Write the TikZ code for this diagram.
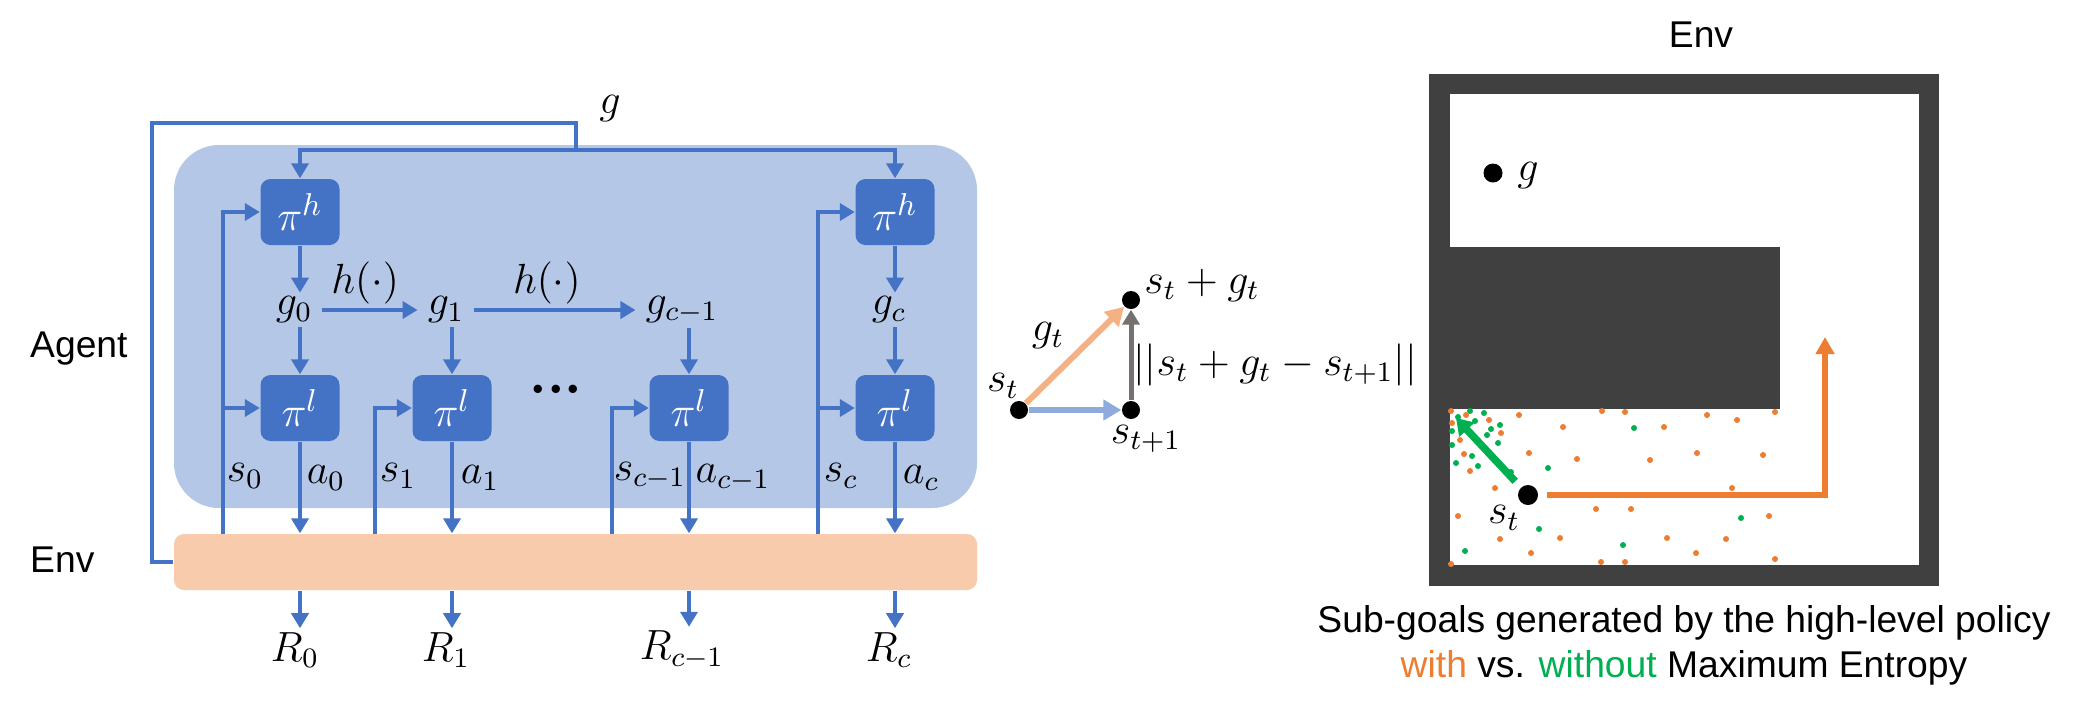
\documentclass[tikz,border=0pt]{standalone}
\usepackage[no-math]{fontspec}
\setmainfont{Liberation Sans}
\newfontfamily\dotsfont{Liberation Serif}
\usepackage{amsmath}
\usetikzlibrary{arrows.meta,positioning}
\definecolor{agentblue}{HTML}{B4C7E7}
\definecolor{boxblue}{HTML}{4472C4}
\definecolor{envpeach}{HTML}{F8CBAD}
\definecolor{goalorange}{HTML}{F4B183}
\definecolor{stepblue}{HTML}{8FAADC}
\definecolor{errgrey}{HTML}{767171}
\definecolor{wallgrey}{HTML}{404040}
\definecolor{meorange}{HTML}{ED7D31}
\definecolor{megreen}{HTML}{00B050}

\begin{document}
\begin{tikzpicture}[
    x=0.1mm, y=-0.1mm,
    every node/.style={font=\fontsize{10.6}{12.7}\selectfont, inner sep=1pt},
    mathlbl/.style={font=\fontsize{11.5}{13.5}\selectfont},
    policy/.style={fill=boxblue, rounded corners=1mm, minimum width=7.9mm, minimum height=6.6mm, inner sep=0pt, text=white, font=\fontsize{12.5}{14}\selectfont},
    wire/.style={draw=boxblue, line width=0.42mm},
    flow/.style={wire, -{Triangle[length=1.5mm,width=1.7mm]}},
    blackdot/.style={circle, fill=black, inner sep=0pt, minimum size=1.8mm},
    bigtip/.style={-{Triangle[length=1.8mm,width=2mm]}}
]
\useasboundingbox (0,0) rectangle (2077,714);

% Agent and Env regions
\fill[agentblue, rounded corners=4.5mm] (174,145) rectangle (977,508);
\node (env) [fill=envpeach, rounded corners=1mm, minimum width=80.3mm, minimum height=5.6mm, inner sep=0pt] at (575.5,562) {};
\node[anchor=west] at (26,349) {Agent};
\node[anchor=west] at (26,560) {Env};

% Policies
\node (ph0) [policy] at (300,212) {$\pi^h$};
\node (ph1) [policy] at (895,212) {$\pi^h$};
\node (pl0) [policy] at (300,408) {$\pi^l$};
\node (pl1) [policy] at (452,408) {$\pi^l$};
\node (pl2) [policy] at (689,408) {$\pi^l$};
\node (pl3) [policy] at (895,408) {$\pi^l$};
\node[font=\dotsfont\fontsize{20}{22}\selectfont, inner sep=0pt] at (556,389) {...};

% Sub-goals
\node (g0) [mathlbl] at (294,310) {$g_0$};
\node (g1) [mathlbl] at (446,310) {$g_1$};
\node (g2) [mathlbl] at (682,310) {$g_{c-1}$};
\node (g3) [mathlbl] at (889,310) {$g_c$};
\draw[flow] (ph0) -- (ph0 |- g0.north);
\draw[flow] (ph1) -- (ph1 |- g3.north);
\draw[flow] (ph0 |- g0.south) -- (pl0);
\draw[flow] (pl1 |- g1.south) -- (pl1);
\draw[flow] (pl2 |- g2.south) -- (pl2);
\draw[flow] (ph1 |- g3.south) -- (pl3);
\draw[flow] ([xshift=0.6mm]g0.east) -- node[above, mathlbl, pos=0.45] {$h(\cdot)$} ([xshift=-0.6mm]g1.west);
\draw[flow] ([xshift=0.6mm]g1.east) -- node[above, mathlbl, pos=0.45] {$h(\cdot)$} ([xshift=-0.6mm]g2.west);

% Goal feedback loop
\coordinate (gsplit) at (576,150);
\draw[wire] (env.west) -| (152,123) -| (gsplit);
\draw[flow] (gsplit) -| (ph0.north);
\draw[flow] (gsplit) -| (ph1.north);
\node[mathlbl] at (610,109) {$g$};

% States from Env
\coordinate (s0) at (223,534);
\coordinate (s1) at (375,534);
\coordinate (s2) at (612,534);
\coordinate (s3) at (818,534);
\draw[flow] (s0) |- (ph0.west);
\draw[flow] (s0 |- pl0.west) -- (pl0.west);
\draw[flow] (s1) |- (pl1.west);
\draw[flow] (s2) |- (pl2.west);
\draw[flow] (s3) |- (ph1.west);
\draw[flow] (s3 |- pl3.west) -- (pl3.west);
\node[mathlbl] at (245,476) {$s_0$};
\node[mathlbl] at (398,476) {$s_1$};
\node[mathlbl] at (650,476) {$s_{c-1}$};
\node[mathlbl] at (841,476) {$s_c$};

% Actions and rewards
\foreach \p in {pl0,pl1,pl2,pl3}
  \draw[flow] (\p) -- (\p |- env.north);
\node[mathlbl] at (326,478) {$a_0$};
\node[mathlbl] at (480,478) {$a_1$};
\node[mathlbl] at (733,478) {$a_{c-1}$};
\node[mathlbl] at (921,478) {$a_c$};
\node (r0) [mathlbl] at (295,650) {$R_0$};
\node (r1) [mathlbl] at (446,650) {$R_1$};
\node (r2) [mathlbl] at (682,650) {$R_{c-1}$};
\node (r3) [mathlbl] at (889,650) {$R_c$};
\draw[flow] (pl0 |- env.south) -- (pl0 |- r0.north);
\draw[flow] (pl1 |- env.south) -- (pl1 |- r1.north);
\draw[flow] (pl2 |- env.south) -- (pl2 |- r2.north);
\draw[flow] (pl3 |- env.south) -- (pl3 |- r3.north);

% Sub-goal distance
\node (st) [blackdot] at (1019,410) {};
\node (stnext) [blackdot] at (1131,410) {};
\node (stgoal) [blackdot] at (1131,300) {};
\draw[bigtip, goalorange, line width=0.6mm] (st) -- (stgoal);
\draw[bigtip, stepblue, line width=0.6mm] (st) -- (stnext);
\draw[-{Triangle[length=1.5mm,width=1.7mm]}, errgrey, line width=0.5mm] (stnext) -- (stgoal);
\node[mathlbl] at (1003,386) {$s_t$};
\node[mathlbl] at (1146,439) {$s_{t+1}$};
\node[mathlbl] at (1202,285) {$s_t+g_t$};
\node[mathlbl] at (1048,336) {$g_t$};
\node[mathlbl] at (1275,365) {$||s_t+g_t-s_{t+1}||$};

% Maze
\node at (1701,35) {Env};
\fill[wallgrey] (1429,74) rectangle (1939,586);
\fill[white] (1450,94) rectangle (1919,565);
\fill[wallgrey] (1450,247) rectangle (1780,409);
\foreach \x/\y in {1451/411,1452/423,1466/415,1489/420,1501/433,1460/440,1464/454,1470/471,
    1519/415,1563/427,1602/411,1625/412,1664/427,1707/415,1737/420,1775/412,1529/453,1577/459,
    1650/460,1697/453,1763/455,1495/488,1732/488,1458/516,1596/509,1631/509,1769/516,1500/539,
    1560/538,1667/538,1726/539,1531/553,1696/553,1601/562,1625/562,1775/559,1451/564}
  \fill[meorange] (\x,\y) circle (0.3mm);
\foreach \x/\y in {1470/411,1484/413,1458/417,1475/421,1500/425,1491/429,1452/431,1487/435,
    1498/443,1452/445,1472/456,1456/463,1478/466,1511/472,1548/468,1634/428,1539/529,1741/518,
    1623/545,1465/551}
  \fill[megreen] (\x,\y) circle (0.3mm);
\node (goal) [blackdot, minimum size=1.9mm] at (1493,173) {};
\node[mathlbl] at (1528,176) {$g$};
\node (start) [blackdot, minimum size=2mm] at (1528,495) {};
\node[mathlbl] at (1504,518) {$s_t$};
\coordinate (maxent) at (1825,337);
\coordinate (nomaxent) at (1456,418);
\draw[meorange, line width=0.55mm, -{Triangle[length=1.7mm,width=1.8mm]}] ([xshift=0.8mm]start.east) -| (maxent);
\draw[megreen, line width=0.75mm, shorten <=0.8mm, -{Triangle[length=1.6mm,width=2mm]}] (start) -- (nomaxent);

% Caption
\node at (1684,623) {Sub-goals generated by the high-level policy};
\node at (1684,668) {\textcolor{meorange}{with} vs. \textcolor{megreen}{without} Maximum Entropy};
\end{tikzpicture}
\end{document}
